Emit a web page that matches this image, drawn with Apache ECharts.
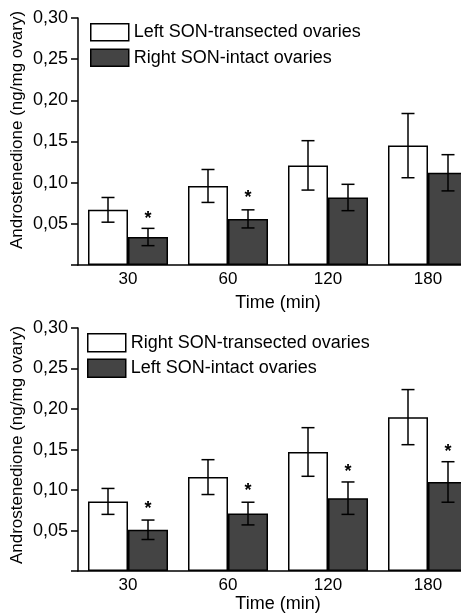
<!DOCTYPE html>
<html>
<head>
<meta charset="utf-8">
<script src="https://cdn.jsdelivr.net/npm/echarts@6/dist/echarts.min.js"></script>
<style>
html,body{margin:0;padding:0;background:#fff;overflow:hidden;width:461px;height:614px;}
#chart{width:478px;height:614px;}
</style>
</head>
<body>
<div id="chart"></div>
<script>
// ---- data ----
const categories = ['30', '60', '120', '180'];
const yTickValues = [0.05, 0.10, 0.15, 0.20, 0.25, 0.30];

const topTransectedName = 'Left SON-transected ovaries';
const topIntactName = 'Right SON-intact ovaries';
const topTransected = [0.067, 0.096, 0.121, 0.145];
const topTransectedErr = [0.015, 0.020, 0.030, 0.039];
const topIntact = [0.034, 0.056, 0.082, 0.112];
const topIntactErr = [0.0105, 0.011, 0.016, 0.022];
const topStars = [0.061, 0.086, null, null];

const bottomTransectedName = 'Right SON-transected ovaries';
const bottomIntactName = 'Left SON-intact ovaries';
const bottomTransected = [0.086, 0.116, 0.147, 0.190];
const bottomTransectedErr = [0.016, 0.0215, 0.030, 0.034];
const bottomIntact = [0.051, 0.071, 0.090, 0.110];
const bottomIntactErr = [0.012, 0.014, 0.020, 0.025];
const bottomStars = [0.082, 0.104, 0.127, 0.152];

const yTitle = 'Androstenedione (ng/mg ovary)';
const xTitle = 'Time (min)';

// ---- chart ----
const FONT = '"Liberation Sans", Arial, sans-serif';
const DARK = '#444444';
const chart = echarts.init(document.getElementById('chart'), null, {renderer: 'canvas'});

function errRender(sign) {
  return function (params, api) {
    const i = api.value(0), v = api.value(1), e = api.value(2);
    const band = api.size([1, 0])[0];
    const dx = sign * band * 0.2;
    const hi = api.coord([i, v + e]);
    const lo = api.coord([i, v - e]);
    const cx = hi[0] + dx;
    const cap = 6.5;
    const st = {stroke: '#000', lineWidth: 1.5};
    return {
      type: 'group',
      children: [
        {type: 'line', shape: {x1: cx, y1: hi[1], x2: cx, y2: lo[1]}, style: st},
        {type: 'line', shape: {x1: cx - cap, y1: hi[1], x2: cx + cap, y2: hi[1]}, style: st},
        {type: 'line', shape: {x1: cx - cap, y1: lo[1], x2: cx + cap, y2: lo[1]}, style: st}
      ]
    };
  };
}
function starRender(params, api) {
  const i = api.value(0), v = api.value(1);
  const band = api.size([1, 0])[0];
  const p = api.coord([i, v]);
  return {
    type: 'text',
    x: p[0] + band * 0.2,
    y: p[1] + 4,
    style: {text: '*', font: 'bold 18px ' + FONT, fill: '#000', align: 'center', verticalAlign: 'middle'}
  };
}
function errData(vals, errs) { return vals.map((v, i) => [i, v, errs[i]]); }
function starData(stars) { return stars.map((s, i) => s == null ? null : [i, s]).filter(d => d); }

function yAxisFor(idx) {
  return {
    type: 'value', gridIndex: idx, min: 0, max: 0.30, interval: 0.05,
    axisLine: {show: true, lineStyle: {color: '#000', width: 1.5}},
    axisTick: {show: true, length: 7, lineStyle: {color: '#000', width: 1.5}},
    axisLabel: {
      margin: 10, color: '#000', fontSize: 18, fontFamily: FONT,
      formatter: v => (Math.abs(v) < 1e-9 ? '' : v.toFixed(2).replace('.', ','))
    },
    splitLine: {show: false}
  };
}
function xAxisFor(idx, labelMargin, nameGap) {
  return {
    type: 'category', gridIndex: idx, data: categories,
    axisLine: {show: true, lineStyle: {color: '#000', width: 1.5}},
    axisTick: {show: false},
    axisLabel: {margin: labelMargin, color: '#000', fontSize: 17, fontFamily: FONT},
    name: xTitle, nameLocation: 'middle', nameGap: nameGap,
    nameTextStyle: {color: '#000', fontSize: 18, fontFamily: FONT}
  };
}
const whiteStyle = {color: '#fff', borderColor: '#000', borderWidth: 1.5};
const darkStyle = {color: DARK, borderColor: '#000', borderWidth: 1.5};

function barSeries(name, data, style, axisIdx) {
  return {
    name: name, type: 'bar', xAxisIndex: axisIdx, yAxisIndex: axisIdx, data: data,
    itemStyle: style, barGap: '0%', barCategoryGap: '20%', z: 2
  };
}
function errSeries(vals, errs, sign, axisIdx) {
  return {
    type: 'custom', xAxisIndex: axisIdx, yAxisIndex: axisIdx,
    renderItem: errRender(sign), data: errData(vals, errs),
    encode: {x: 0, y: 1}, z: 5, silent: true
  };
}
function starSeries(stars, axisIdx) {
  return {
    type: 'custom', xAxisIndex: axisIdx, yAxisIndex: axisIdx,
    renderItem: starRender, data: starData(stars),
    encode: {x: 0, y: 1}, z: 6, silent: true
  };
}
function legendFor(names, left, top, h, gap) {
  return {
    data: names.map(n => ({name: n, icon: 'rect'})),
    orient: 'vertical', left: left, top: top, padding: 0,
    itemWidth: 38, itemHeight: h, itemGap: gap,
    textStyle: {color: '#000', fontSize: 18, fontFamily: FONT},
    itemStyle: {borderWidth: 1.5, borderColor: '#000'},
    selectedMode: false
  };
}

const option = {
  animation: false,
  backgroundColor: '#fff',
  grid: [
    {left: 78, right: 0, top: 18, bottom: 614 - 265},
    {left: 78, right: 0, top: 328, bottom: 614 - 576}
  ],
  legend: [
    legendFor([topTransectedName, topIntactName], 90, 23, 17, 7),
    legendFor([bottomTransectedName, bottomIntactName], 87, 333, 18, 6)
  ],
  xAxis: [xAxisFor(0, 6, 29), xAxisFor(1, 6, 22)],
  yAxis: [yAxisFor(0), yAxisFor(1)],
  graphic: [
    {type: 'text', x: 17, y: 130, rotation: Math.PI / 2,
     style: {text: yTitle, font: '17px ' + FONT, fill: '#000', align: 'center', verticalAlign: 'middle'}},
    {type: 'text', x: 17, y: 445, rotation: Math.PI / 2,
     style: {text: yTitle, font: '17px ' + FONT, fill: '#000', align: 'center', verticalAlign: 'middle'}}
  ],
  series: [
    barSeries(topTransectedName, topTransected, whiteStyle, 0),
    barSeries(topIntactName, topIntact, darkStyle, 0),
    errSeries(topTransected, topTransectedErr, -1, 0),
    errSeries(topIntact, topIntactErr, 1, 0),
    starSeries(topStars, 0),
    barSeries(bottomTransectedName, bottomTransected, whiteStyle, 1),
    barSeries(bottomIntactName, bottomIntact, darkStyle, 1),
    errSeries(bottomTransected, bottomTransectedErr, -1, 1),
    errSeries(bottomIntact, bottomIntactErr, 1, 1),
    starSeries(bottomStars, 1)
  ]
};
chart.setOption(option);
</script>
</body>
</html>
